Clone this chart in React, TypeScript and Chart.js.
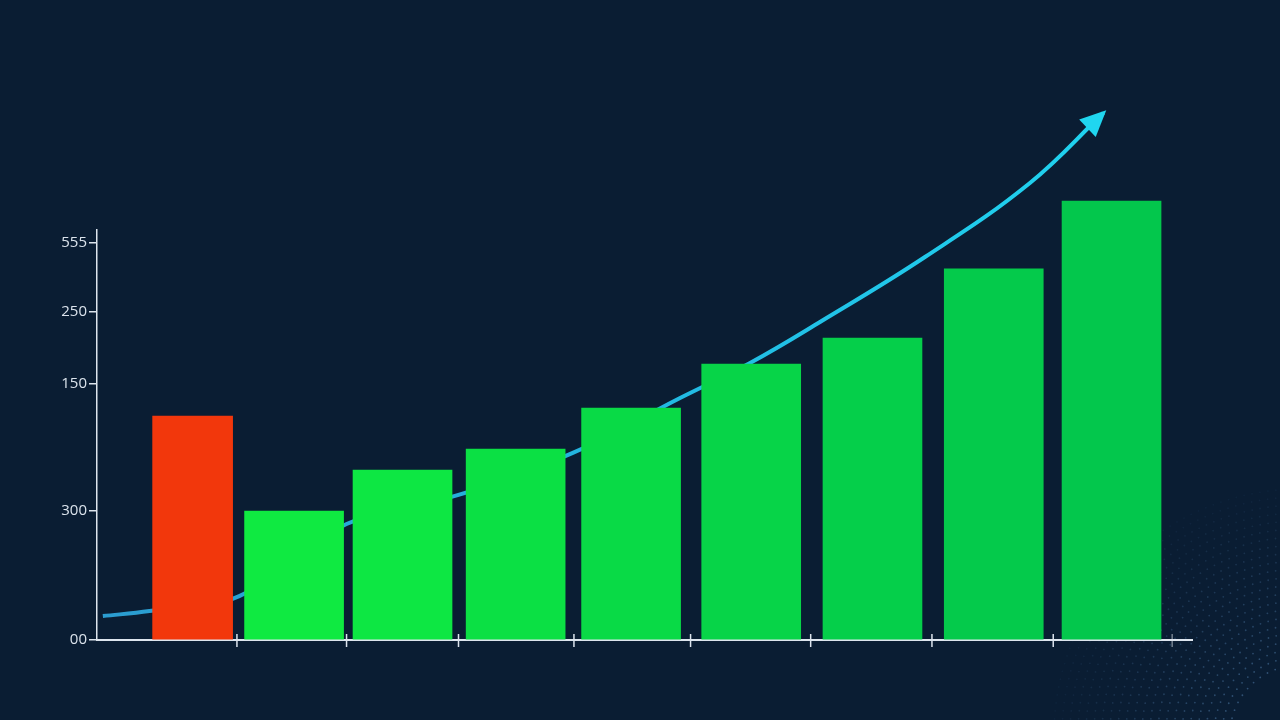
import React, { useEffect, useRef } from "react";
import { Chart, registerables } from "chart.js";

Chart.register(...registerables);

// posiciones y alturas de las barras
const barPositions = [1.12, 1.99, 2.92, 3.89, 4.88, 5.91, 6.95, 7.99, 9.0];
const barValues = [174.8, 100.7, 132.7, 149.1, 181.1, 215.4, 235.7, 289.6, 342.6];
const barColors = [
  "#f2370c",
  "#0fea41",
  "#0de743",
  "#0be044",
  "#09da46",
  "#07d448",
  "#05cf4a",
  "#04ca4b",
  "#03c74c",
];

// curva de tendencia con flecha
const trendX = [0.35, 0.75, 1.52, 2.44, 3.4, 4.38, 5.3, 5.9, 6.5, 7.4, 8.3, 8.93];
const trendY = [18.7, 22.6, 34.3, 90.5, 113.2, 146.0, 188.9, 216.2, 248.2, 298.9, 356.7, 411.3];

// marcas del eje
const xTickPositions = [1.5, 2.44, 3.4, 4.39, 5.39, 6.42, 7.46, 8.5, 9.52];
const yTickValues = [0, 101, 200, 256, 310];
const yTickLabels = ["00", "300", "150", "250", "555"];

const BG = "#0a1d33";
const AXIS = "#dde5ee";

const backgroundPlugin = {
  id: "bgDots",
  beforeDraw(chart: any) {
    const { ctx, width, height } = chart;
    ctx.save();
    ctx.fillStyle = BG;
    ctx.fillRect(0, 0, width, height);
    // patrón de puntos decorativo abajo a la derecha
    const cx = width + 20;
    const cy = height + 15;
    for (let r = 70; r <= 250; r += 8) {
      const alpha = 0.45 * (1 - (r - 70) / 200);
      ctx.fillStyle = `rgba(95,145,195,${alpha})`;
      const steps = Math.floor((Math.PI / 2) * r / 8);
      for (let i = 0; i <= steps; i++) {
        const a = Math.PI + (i / steps) * (Math.PI / 2);
        const x = cx + r * Math.cos(a);
        const y = cy + r * Math.sin(a);
        if (x < width && y < height) {
          ctx.beginPath();
          ctx.arc(x, y, 0.9, 0, Math.PI * 2);
          ctx.fill();
        }
      }
    }
    ctx.restore();
  },
};

const axisTicksPlugin = {
  id: "axisTicks",
  afterDraw(chart: any) {
    const { ctx, chartArea } = chart;
    const x = chart.scales.x;
    ctx.save();
    ctx.strokeStyle = AXIS;
    ctx.lineWidth = 1.5;
    xTickPositions.forEach((v, i) => {
      const px = x.getPixelForValue(v);
      ctx.globalAlpha = i === xTickPositions.length - 1 ? 0.5 : 1;
      ctx.beginPath();
      ctx.moveTo(px, chartArea.bottom - 6);
      ctx.lineTo(px, chartArea.bottom + 7);
      ctx.stroke();
    });
    ctx.restore();
  },
};

const arrowPlugin = {
  id: "arrowHead",
  afterDatasetsDraw(chart: any) {
    const pts = chart.getDatasetMeta(2).data;
    if (!pts || pts.length < 2) return;
    const tip = pts[pts.length - 1];
    const prev = pts[pts.length - 2];
    const ang = Math.atan2(tip.y - prev.y, tip.x - prev.x);
    const { ctx } = chart;
    const len = 26;
    const half = 12;
    const tx = tip.x + Math.cos(ang) * 4;
    const ty = tip.y + Math.sin(ang) * 4;
    const bx = tx - Math.cos(ang) * len;
    const by = ty - Math.sin(ang) * len;
    ctx.save();
    ctx.fillStyle = "#20d6f0";
    ctx.beginPath();
    ctx.moveTo(tx, ty);
    ctx.lineTo(bx + Math.sin(ang) * half, by - Math.cos(ang) * half);
    ctx.lineTo(bx - Math.sin(ang) * half, by + Math.cos(ang) * half);
    ctx.closePath();
    ctx.fill();
    ctx.restore();
  },
};

const GrowthChart: React.FC = () => {
  const canvasRef = useRef<HTMLCanvasElement>(null);
  const chartRef = useRef<Chart | null>(null);

  useEffect(() => {
    if (!canvasRef.current) return;
    if (chartRef.current) chartRef.current.destroy();

    const bars = barPositions.map((x, i) => ({ x, y: barValues[i] }));

    chartRef.current = new Chart(canvasRef.current, {
      type: "bar",
      data: {
        datasets: [
          {
            type: "bar",
            data: bars.slice(0, 1),
            backgroundColor: barColors.slice(0, 1),
            barThickness: 80,
            grouped: false,
            order: 1,
            clip: false,
          } as any,
          {
            type: "bar",
            data: bars.slice(1),
            backgroundColor: barColors.slice(1),
            barThickness: 99,
            grouped: false,
            order: 1,
            clip: false,
          } as any,
          {
            type: "line",
            data: trendX.map((x, i) => ({ x, y: trendY[i] })),
            borderColor: (c: any) => {
              const { ctx, chartArea } = c.chart;
              if (!chartArea) return "#22c8ec";
              const g = ctx.createLinearGradient(chartArea.left, 0, chartArea.right, 0);
              g.addColorStop(0, "#2b9cd0");
              g.addColorStop(0.5, "#22b8e2");
              g.addColorStop(1, "#1fd8f2");
              return g;
            },
            borderWidth: 4,
            pointRadius: 0,
            tension: 0.4,
            order: 2,
            clip: false,
          } as any,
        ],
      },
      options: {
        animation: false,
        responsive: true,
        maintainAspectRatio: false,
        layout: { padding: { top: 230, right: 88, left: 0, bottom: 0 } },
        plugins: {
          legend: { display: false },
          tooltip: { enabled: false },
        },
        scales: {
          x: {
            type: "linear",
            min: 0.3,
            max: 9.69,
            offset: false,
            grid: { display: false },
            border: { display: true, color: AXIS, width: 2 },
            ticks: { display: false },
            afterFit: (s: any) => {
              s.height = 80;
            },
          },
          y: {
            type: "linear",
            min: 0,
            max: 320,
            afterBuildTicks: (s: any) => {
              s.ticks = yTickValues.map((v) => ({ value: v }));
            },
            ticks: {
              callback: (_v: any, i: number) => yTickLabels[i],
              color: "#dbe3ec",
              padding: 2,
              font: { family: "'Open Sans', sans-serif", size: 15 },
            },
            grid: {
              display: true,
              drawOnChartArea: false,
              tickLength: 8,
              color: AXIS,
              lineWidth: 1.5,
            },
            border: { display: true, color: AXIS, width: 1.5 },
            afterFit: (s: any) => {
              s.width = 97;
            },
          },
        },
      },
      plugins: [backgroundPlugin, axisTicksPlugin, arrowPlugin],
    });

    return () => {
      if (chartRef.current) {
        chartRef.current.destroy();
        chartRef.current = null;
      }
    };
  }, []);

  return (
    <div
      style={{
        position: "fixed",
        top: 0,
        left: 0,
        width: 1280,
        height: 720,
        background: BG,
      }}
    >
      <canvas ref={canvasRef} />
    </div>
  );
};

export default function App() {
  return <GrowthChart />;
}
